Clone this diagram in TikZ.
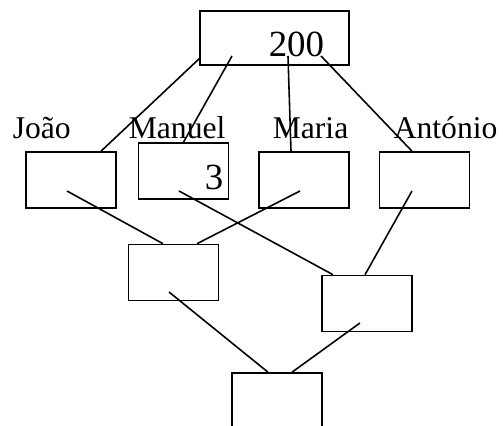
\documentclass[tikz,border=0pt]{standalone}
\usepackage{fontspec}
\setmainfont{Liberation Serif}
\usepackage{tikz}

\begin{document}
\begin{tikzpicture}[line width=0.9pt,
  box/.style={draw, minimum width=1.8cm, minimum height=1.12cm, inner sep=0pt},
  personlabel/.style={anchor=base west, inner sep=0pt, font=\fontsize{18}{20}\selectfont},
  numtext/.style={anchor=base west, inner sep=0pt, font=\fontsize{21}{23}\selectfont}]
\useasboundingbox (0,0) rectangle (10.06,8.52);
\clip (0,0) rectangle (10.06,8.52);

% top box
\node[box, minimum width=2.98cm, minimum height=1.08cm] (top) at (5.49,7.76) {};
\node[numtext] (n200) at (5.36,7.38) {200};

% second row
\node[box] (joao) at (1.42,4.92) {};
\node[box] (manuel) at (3.67,5.10) {};
\node[box] (maria) at (6.08,4.92) {};
\node[box] (antonio) at (8.49,4.92) {};
\node[numtext] (n3) at (4.08,4.72) {3};

\node[personlabel] (lJoao) at (0.24,5.74) {João};
\node[personlabel] (lManuel) at (2.56,5.74) {Manuel};
\node[personlabel] (lMaria) at (5.44,5.74) {Maria};
\node[personlabel] (lAntonio) at (7.86,5.74) {António};

% third row and bottom
\node[box] (mid1) at (3.47,3.07) {};
\node[box] (mid2) at (7.34,2.45) {};
\node[box] (bottom) at (5.54,0.50) {};

\draw ([shift={(-1.49,-0.40)}]top.center) -- ([xshift=0.60cm]joao.north);
\draw ([shift={(-0.85,-0.36)}]top.center) -- (manuel.north);
\draw ([shift={(0.27,-0.36)}]top.center) -- ([xshift=-0.26cm]maria.north);
\draw ([shift={(0.93,-0.36)}]top.center) -- ([xshift=-0.25cm]antonio.north);

\draw ([shift={(-0.08,-0.22)}]joao.center) -- ([xshift=-0.21cm]mid1.north);
\draw ([shift={(-0.09,-0.40)}]manuel.center) -- ([xshift=-0.68cm]mid2.north);
\draw ([shift={(-0.08,-0.22)}]maria.center) -- ([xshift=0.47cm]mid1.north);
\draw ([shift={(-0.25,-0.22)}]antonio.center) -- ([xshift=-0.04cm]mid2.north);

\draw ([shift={(-0.09,-0.39)}]mid1.center) -- ([xshift=-0.18cm]bottom.north);
\draw ([shift={(-0.14,-0.39)}]mid2.center) -- ([xshift=0.30cm]bottom.north);

\end{tikzpicture}
\end{document}
